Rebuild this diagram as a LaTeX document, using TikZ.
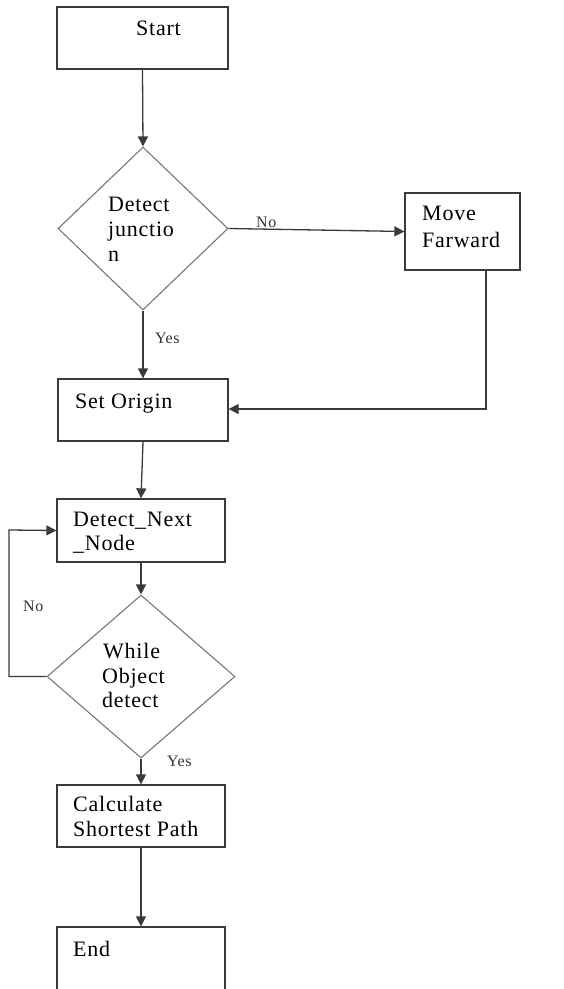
\documentclass[tikz,border=0pt]{standalone}
\usepackage{fontspec}
\setmainfont{Liberation Serif}[LetterSpace=3.5]
\usetikzlibrary{arrows.meta,shapes.geometric}
\definecolor{linec}{HTML}{3A3A3A}
\definecolor{diac}{HTML}{777777}
\tikzset{
  box/.style={draw=linec, line width=1.3pt, rectangle, inner sep=0pt},
  dia/.style={draw=diac, line width=1.1pt, diamond, inner sep=0pt},
  txt/.style={anchor=base west, inner sep=0pt, font=\fontsize{22}{25}\selectfont, text=black, align=left},
  lbl/.style={anchor=base west, inner sep=0pt, font=\fontsize{16}{18}\selectfont, text=black!80},
  conn/.style={draw=linec, line width=1.3pt},
  arr/.style={conn, -{Triangle[length=10pt,width=10pt]}}
}
\begin{document}
\begin{tikzpicture}[x=1pt,y=-1pt]
\useasboundingbox (0,0) rectangle (563,989);
\clip (0,0) rectangle (563,989);
\fill[white] (0,0) rectangle (563,989);
% boxes
\node[box, minimum width=171pt, minimum height=62pt] (start) at (142.5,38) {};
\node[dia, minimum width=170pt, minimum height=163pt] (d1) at (143,228.5) {};
\node[box, minimum width=115pt, minimum height=77pt] (move) at (462.5,231.5) {};
\node[box, minimum width=170pt, minimum height=62pt] (origin) at (143,410) {};
\node[box, minimum width=168pt, minimum height=63pt] (next) at (141,530.5) {};
\node[dia, minimum width=188pt, minimum height=163pt] (d2) at (141,676.5) {};
\node[box, minimum width=168pt, minimum height=62pt] (calc) at (141,816) {};
\node[box, minimum width=168pt, minimum height=73pt] (end) at (141,963.5) {};
% texts
\node[txt] (tstart) at (136,35) {Start};
\node[txt] (td1a) at (108,211) {Detect};
\node[txt] (td1b) at (108,236) {junctio};
\node[txt] (td1c) at (108,261) {n};
\node[txt] (tmove1) at (422,220) {Move};
\node[txt] (tmove2) at (422,247) {Farward};
\node[txt] (torigin) at (75,408) {Set Origin};
\node[txt] (tnext1) at (73,526) {Detect\_Next};
\node[txt] (tnext2) at (73,550) {\_Node};
\node[txt] (td2a) at (103,658) {While};
\node[txt] (td2b) at (102,683) {Object};
\node[txt] (td2c) at (102,707) {detect};
\node[txt] (tcalc1) at (73,811) {Calculate};
\node[txt] (tcalc2) at (73,836) {Shortest Path};
\node[txt] (tend) at (73,956) {End};
% labels
\node[lbl] (no1) at (256,227) {No};
\node[lbl] (yes1) at (155,343) {Yes};
\node[lbl] (no2) at (23,611) {No};
\node[lbl] (yes2) at (167,766) {Yes};
% connectors
\coordinate (mvb) at (486,409);
\coordinate (loop) at (9,530);
\draw[arr] (start.south) -- (d1.north);
\draw[arr] (d1.east) -- (move.west);
\draw[arr] (move.south -| mvb) -- (mvb) -- (mvb -| origin.east);
\draw[arr] (d1.south) -- (origin.north);
\draw[arr] (origin.south) -- (next.north);
\draw[arr] (next.south) -- (d2.north);
\draw[arr] (d2.west) -| (loop) -- (next.west);
\draw[arr] (d2.south) -- (calc.north);
\draw[arr] (calc.south) -- (end.north);
\end{tikzpicture}
\end{document}
